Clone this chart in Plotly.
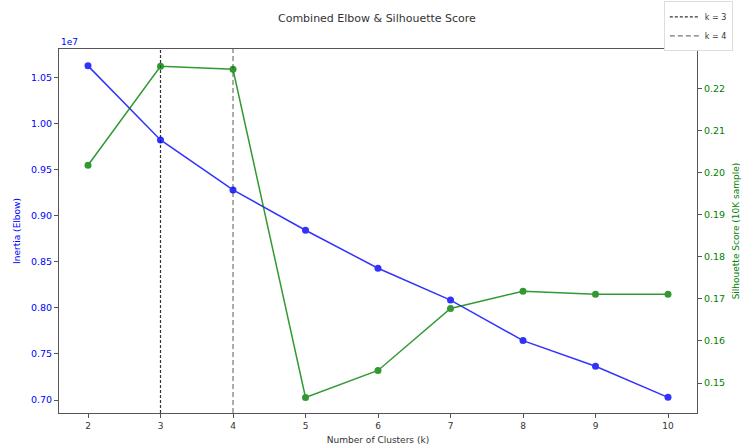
import plotly.graph_objects as go

# Cluster counts evaluated
k_values = [2, 3, 4, 5, 6, 7, 8, 9, 10]
# Within-cluster sum of squares (elbow method)
inertia = [10627000, 9823000, 9280000, 8843000, 8430000, 8085000, 7645000, 7366000, 7029000]
# Silhouette score on a 10K sample
silhouette = [0.2017, 0.2252, 0.2245, 0.1466, 0.1530, 0.1677, 0.1718, 0.1711, 0.1711]

inertia_ticks = [7.0e6, 7.5e6, 8.0e6, 8.5e6, 9.0e6, 9.5e6, 10.0e6, 10.5e6]
inertia_ticktext = [f"{v / 1e7:.2f}" for v in inertia_ticks]
sil_ticks = [0.15, 0.16, 0.17, 0.18, 0.19, 0.20, 0.21, 0.22]
sil_ticktext = [f"{v:.2f}" for v in sil_ticks]

# Highlighted choices of k
marked_k = [3, 4]
marked_names = ["k = 3", "k = 4"]
marked_colors = ["#333333", "#777777"]
marked_dash = ["3px,2px", "5px,3px"]

BLUE = "#0000ff"
GREEN = "#008000"
FONT = "DejaVu Sans"

fig = go.Figure()

fig.add_trace(go.Scatter(
    x=k_values, y=inertia, mode="lines+markers", yaxis="y",
    line=dict(color=BLUE, width=1.5), marker=dict(color=BLUE, size=7),
    showlegend=False, opacity=0.8,
))
fig.add_trace(go.Scatter(
    x=k_values, y=silhouette, mode="lines+markers", yaxis="y2",
    line=dict(color=GREEN, width=1.5), marker=dict(color=GREEN, size=7),
    showlegend=False, opacity=0.8,
))

for k, name, col, dash in zip(marked_k, marked_names, marked_colors, marked_dash):
    fig.add_shape(
        type="line", xref="x", yref="paper", x0=k, x1=k, y0=0, y1=1,
        line=dict(color=col, width=1.2, dash=dash),
        showlegend=True, name=name, layer="below",
    )

axis_line = dict(showline=True, linecolor="#555555", linewidth=1,
                 ticks="outside", ticklen=4, tickcolor="#555555", showgrid=False,
                 zeroline=False)

fig.update_layout(
    width=742, height=445,
    margin=dict(l=59, r=45, t=49, b=32, autoexpand=False),
    paper_bgcolor="white", plot_bgcolor="white",
    font=dict(family=FONT, size=9, color="#333333"),
    title=dict(text="Combined Elbow & Silhouette Score", x=0.508, xanchor="center",
               y=0.96, yanchor="middle", font=dict(family=FONT, size=11, color="#333333")),
    xaxis=dict(range=[1.6, 10.4], tickvals=k_values, mirror=True,
               title=dict(text="Number of Clusters (k)", standoff=6,
                          font=dict(size=9, color="#333333")),
               tickfont=dict(size=9, color="#333333"), **axis_line),
    yaxis=dict(range=[6859000, 10810000], tickvals=inertia_ticks, ticktext=inertia_ticktext,
               title=dict(text="Inertia (Elbow)", standoff=8, font=dict(size=9, color=BLUE)),
               tickfont=dict(size=9.5, color=BLUE), **axis_line),
    yaxis2=dict(range=[0.1429, 0.2293], tickvals=sil_ticks, ticktext=sil_ticktext,
                overlaying="y", side="right",
                title=dict(text="Silhouette Score (10K sample)", standoff=8,
                           font=dict(size=9, color=GREEN)),
                tickfont=dict(size=9.5, color=GREEN), **axis_line),
    legend=dict(x=0.948, y=1.131, xanchor="left", yanchor="top",
                bgcolor="white", bordercolor="#dddddd", borderwidth=1,
                font=dict(size=8, color="#333333"), itemwidth=30,
                tracegroupgap=0),
    annotations=[dict(text="1e7", xref="paper", yref="paper", x=0.0, y=1.0,
                      xanchor="left", yanchor="bottom", showarrow=False,
                      font=dict(size=9, color=BLUE))],
)

fig.write_html("out.html")
